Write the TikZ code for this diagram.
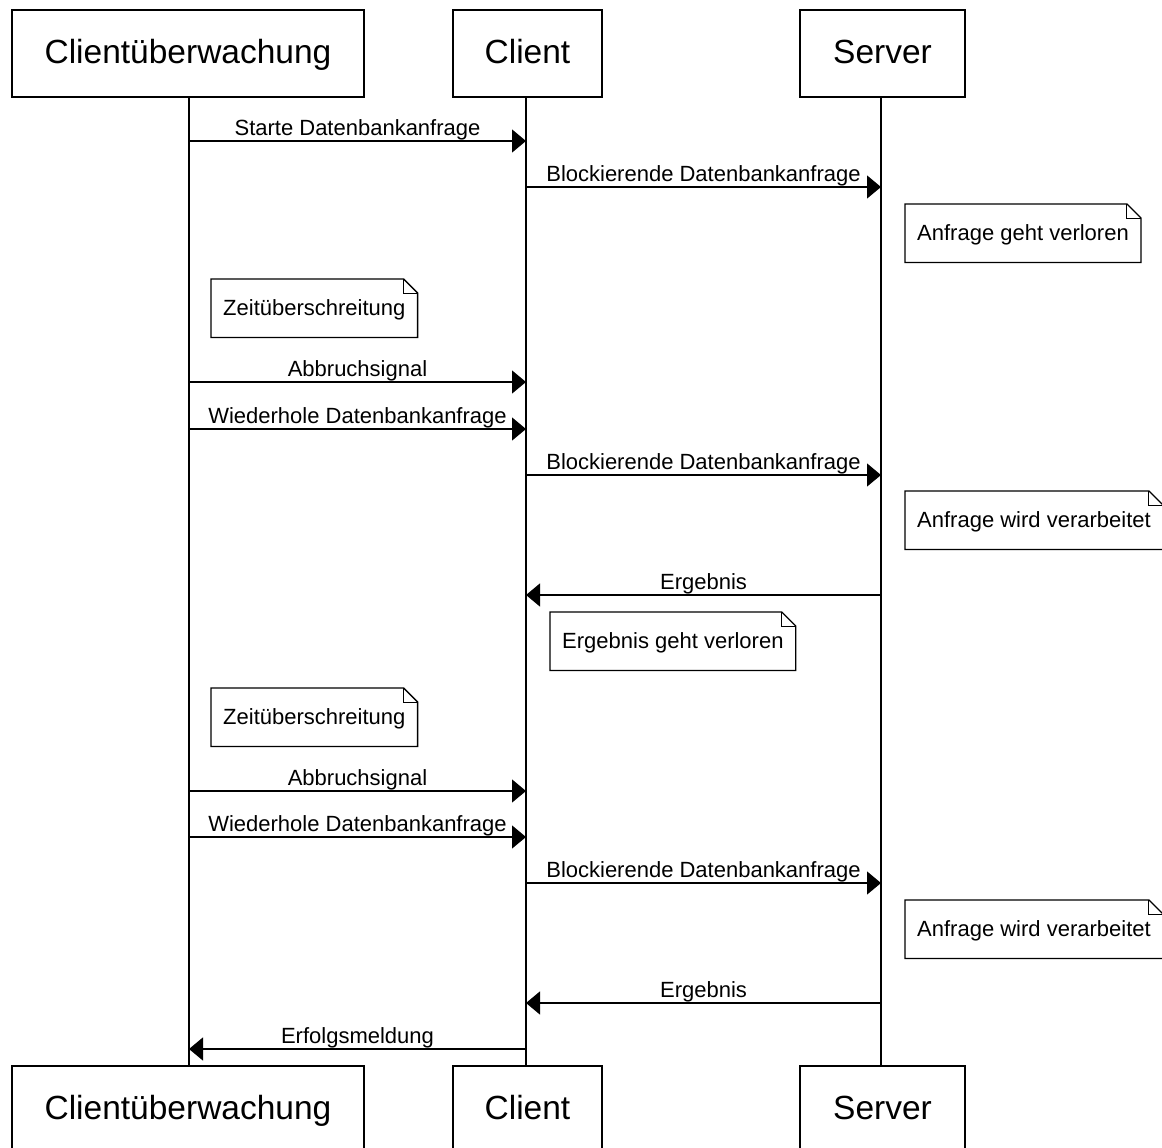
\documentclass[tikz,border=0pt]{standalone}
\usepackage{fontspec}
\setmainfont{Liberation Sans}
\usetikzlibrary{arrows.meta}
\newcommand\foldnote[1]{%
  \draw[line width=1.3pt] (#1.north west) -- ([xshift=-14pt]#1.north east) -- ([yshift=-14pt]#1.north east) -- (#1.south east) -- (#1.south west) -- cycle;
  \draw[line width=1pt] ([xshift=-14pt]#1.north east) -- ([xshift=-14pt,yshift=-14pt]#1.north east) -- ([yshift=-14pt]#1.north east);}
\begin{document}
\begin{tikzpicture}[x=1pt,y=-1pt,
  head/.style={draw, line width=1.3pt, minimum height=87pt, inner sep=0pt, text height=26pt, text depth=6pt, font=\fontsize{33.5}{40}\selectfont},
  life/.style={line width=1.3pt},
  msg/.style={line width=1.3pt, -{Triangle[length=14pt,width=23pt]}},
  lbl/.style={font=\fontsize{22}{26}\selectfont, inner sep=0pt, anchor=base},
  notebox/.style={font=\fontsize{22}{26}\selectfont, inner xsep=12pt, inner ysep=0pt, text height=18pt, text depth=3pt, minimum height=58pt, anchor=north west}
]
\useasboundingbox (0,0) rectangle (1162,1148);
\fill[white] (0,0) rectangle (1162,1148);
\begin{scope}
\clip (0,0) rectangle (1162,1148);
% heads
\node[head, minimum width=352pt] (h1) at (188,53.5) {Clientüberwachung};
\node[head, minimum width=149pt] (h2) at (527.5,53.5) {Client};
\node[head, minimum width=165pt] (h3) at (882.5,53.5) {Server};
\node[head, minimum width=352pt] (f1) at (188,1109.5) {Clientüberwachung};
\node[head, minimum width=149pt] (f2) at (527.5,1109.5) {Client};
\node[head, minimum width=165pt] (f3) at (882.5,1109.5) {Server};
\end{scope}
% lifeline top/bottom
\coordinate (t1) at (189,97); \coordinate (b1) at (189,1066);
\coordinate (t2) at (526,97); \coordinate (b2) at (526,1066);
\coordinate (t3) at (881,97); \coordinate (b3) at (881,1066);
\draw[life] (t1) -- (b1);
\draw[life] (t2) -- (b2);
\draw[life] (t3) -- (b3);
% message anchor points
\foreach \n/\y in {1/141,2/187,4/382,5/429,6/475,7/595,8/791,9/837,10/883,11/1003,12/1049}{
  \coordinate (a\n) at (189,\y);
  \coordinate (c\n) at (526,\y);
  \coordinate (s\n) at (881,\y);
}
\draw[msg] (a1) -- node[lbl, yshift=6pt] (l1) {Starte Datenbankanfrage} (c1);
\draw[msg] (c2) -- node[lbl, yshift=6pt] (l2) {Blockierende Datenbankanfrage} (s2);
\draw[msg] (a4) -- node[lbl, yshift=6pt] (l4) {Abbruchsignal} (c4);
\draw[msg] (a5) -- node[lbl, yshift=6pt] (l5) {Wiederhole Datenbankanfrage} (c5);
\draw[msg] (c6) -- node[lbl, yshift=6pt] (l6) {Blockierende Datenbankanfrage} (s6);
\draw[msg] (s7) -- node[lbl, yshift=6pt] (l7) {Ergebnis} (c7);
\draw[msg] (a8) -- node[lbl, yshift=6pt] (l8) {Abbruchsignal} (c8);
\draw[msg] (a9) -- node[lbl, yshift=6pt] (l9) {Wiederhole Datenbankanfrage} (c9);
\draw[msg] (c10) -- node[lbl, yshift=6pt] (l10) {Blockierende Datenbankanfrage} (s10);
\draw[msg] (s11) -- node[lbl, yshift=6pt] (l11) {Ergebnis} (c11);
\draw[msg] (c12) -- node[lbl, yshift=6pt] (l12) {Erfolgsmeldung} (a12);
% notes
\begin{scope}
\clip (0,0) rectangle (1162,1148);
\node[notebox] (n1) at (905,204) {Anfrage geht verloren};
\foldnote{n1}
\node[notebox] (n2) at (211,279) {Zeitüberschreitung};
\foldnote{n2}
\node[notebox] (n3) at (905,491) {Anfrage wird verarbeitet};
\foldnote{n3}
\node[notebox] (n4) at (550,612) {Ergebnis geht verloren};
\foldnote{n4}
\node[notebox] (n5) at (211,688) {Zeitüberschreitung};
\foldnote{n5}
\node[notebox] (n6) at (905,900) {Anfrage wird verarbeitet};
\foldnote{n6}
\end{scope}
\end{tikzpicture}
\end{document}
